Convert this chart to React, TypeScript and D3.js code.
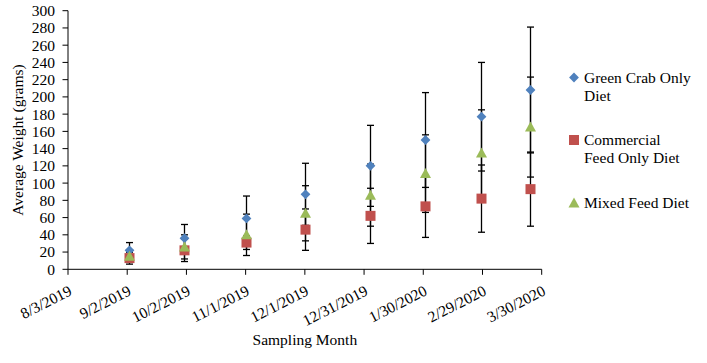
import React from "react";
import * as d3 from "d3";

const tickDates = ["2019-08-03", "2019-09-02", "2019-10-02", "2019-11-01", "2019-12-01", "2019-12-31", "2020-01-30", "2020-02-29", "2020-03-30"];
const tickLabels = ["8/3/2019", "9/2/2019", "10/2/2019", "11/1/2019", "12/1/2019", "12/31/2019", "1/30/2020", "2/29/2020", "3/30/2020"];
const sampleDates = ["2019-09-03", "2019-10-01", "2019-11-01", "2019-12-01", "2020-01-03", "2020-01-31", "2020-02-28", "2020-03-24"];

const greenCrab = [22, 36, 59, 87, 120, 150, 177, 208];
const greenCrabErr = [9, 16, 26, 36, 47, 55, 63, 73];
const commercial = [13, 22, 31, 46, 62, 73, 82, 93];
const commercialErr = [7, 13, 8, 24, 32, 36, 39, 43];
const mixed = [15, 26, 40, 65, 86, 111, 135, 165];
const mixedErr = [5, 14, 24, 32, 36, 45, 50, 58];

const yTicks = d3.range(0, 301, 20);

const parse = (s: string) => {
  const [y, m, d] = s.split("-").map(Number);
  return new Date(y, m - 1, d);
};

const FONT = "Liberation Serif";
const ts: React.CSSProperties = { fontFamily: FONT, fontSize: "15.5px" };

export default function App() {
  const x = d3.scaleTime().domain([parse(tickDates[0]), parse(tickDates[tickDates.length - 1])]).range([68, 541.7]);
  const y = d3.scaleLinear().domain([0, 300]).range([269.3, 10.7]);

  const series = [
    { name: "Green Crab Only Diet", vals: greenCrab, err: greenCrabErr, color: "#4F81BD", shape: "diamond" },
    { name: "Commercial Feed Only Diet", vals: commercial, err: commercialErr, color: "#C0504D", shape: "square" },
    { name: "Mixed Feed Diet", vals: mixed, err: mixedErr, color: "#9BBB59", shape: "triangle" },
  ];

  const marker = (shape: string, cx: number, cy: number, color: string, key: string) => {
    if (shape === "diamond") {
      const p = d3.symbol().type(d3.symbolSquare).size(48)();
      return <path key={key} d={p || ""} transform={`translate(${cx},${cy}) rotate(45)`} fill={color} />;
    }
    if (shape === "square") {
      return <rect key={key} x={cx - 5} y={cy - 5} width={10} height={10} fill={color} />;
    }
    return <path key={key} d={`M${cx},${cy - 5.5}L${cx + 5.5},${cy + 4.5}L${cx - 5.5},${cy + 4.5}Z`} fill={color} />;
  };

  const xAxisY = y(0);

  return (
    <svg width={707} height={363} style={{ position: "absolute", left: 0, top: 0, background: "#fff" }}>
      <rect width={707} height={363} fill="#fff" />
      {/* y axis */}
      <line x1={68} x2={68} y1={y(300)} y2={xAxisY} stroke="#000" strokeWidth={1} />
      {yTicks.map((t) => (
        <g key={t}>
          <line x1={62.5} x2={68} y1={y(t)} y2={y(t)} stroke="#000" />
          <text x={55} y={y(t)} dy="0.35em" textAnchor="end" style={ts} fill="#000">{t}</text>
        </g>
      ))}
      {/* x axis */}
      <line x1={68} x2={x(parse(tickDates[tickDates.length - 1]))} y1={xAxisY} y2={xAxisY} stroke="#000" />
      {tickDates.map((d, i) => {
        const tx = x(parse(d));
        return (
          <g key={d}>
            <line x1={tx} x2={tx} y1={xAxisY} y2={xAxisY + 5.5} stroke="#000" />
            <text transform={`translate(${tx + 4.9},${xAxisY + 25}) rotate(-27)`} textAnchor="end" style={ts} fill="#000">{tickLabels[i]}</text>
          </g>
        );
      })}
      {/* axis titles */}
      <text transform={`translate(23,${(y(0) + y(300)) / 2}) rotate(-90)`} textAnchor="middle" style={ts} fill="#000">Average Weight (grams)</text>
      <text x={(68 + 541.7) / 2} y={345} textAnchor="middle" style={ts} fill="#000">Sampling Month</text>
      {/* error bars */}
      {series.map((s) =>
        s.vals.map((v, i) => {
          const cx = Math.round(x(parse(sampleDates[i]))) + 0.5;
          const top = y(v + s.err[i]);
          const bot = y(v - s.err[i]);
          return (
            <g key={s.name + i} stroke="#000" strokeWidth={1.3}>
              <line x1={cx} x2={cx} y1={top} y2={bot} />
              <line x1={cx - 3.5} x2={cx + 3.5} y1={top} y2={top} />
              <line x1={cx - 3.5} x2={cx + 3.5} y1={bot} y2={bot} />
            </g>
          );
        })
      )}
      {/* markers */}
      {series.map((s) =>
        s.vals.map((v, i) => marker(s.shape, Math.round(x(parse(sampleDates[i]))) + 0.5, y(v), s.color, s.name + "m" + i))
      )}
      {/* legend */}
      {marker("diamond", 574, 77.5, "#4F81BD", "lg1")}
      <text x={584} y={83} style={ts} fill="#000">Green Crab Only</text>
      <text x={584} y={101} style={ts} fill="#000">Diet</text>
      {marker("square", 574, 140, "#C0504D", "lg2")}
      <text x={584} y={145} style={ts} fill="#000">Commercial</text>
      <text x={584} y={163} style={ts} fill="#000">Feed Only Diet</text>
      {marker("triangle", 574, 203, "#9BBB59", "lg3")}
      <text x={584} y={208} style={ts} fill="#000">Mixed Feed Diet</text>
    </svg>
  );
}
